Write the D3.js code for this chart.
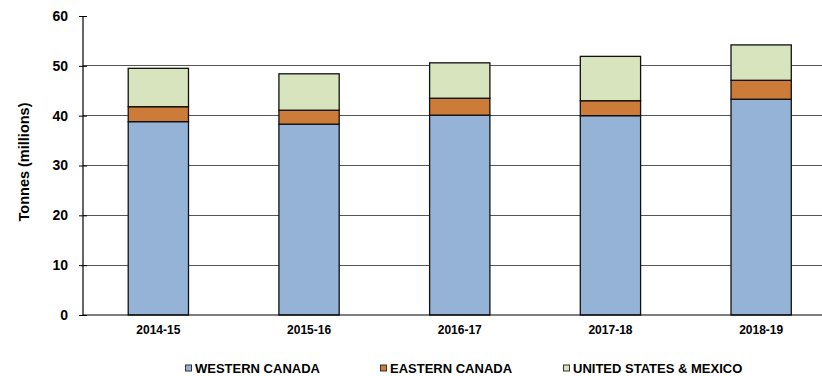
<!DOCTYPE html>
<html><head><meta charset="utf-8">
<script src="https://cdn.jsdelivr.net/npm/d3@7"></script>
<style>body{margin:0;background:#fff;} svg{display:block;font-family:"Liberation Sans",Arial,sans-serif;}</style>
</head><body>
<svg id="chart" width="822" height="376"></svg>
<script>
const categories = ["2014-15","2015-16","2016-17","2017-18","2018-19"];
const western = [38.8, 38.3, 40.1, 40.0, 43.3];
const eastern = [3.0, 2.8, 3.4, 3.0, 3.8];
const usMexico = [7.7, 7.3, 7.1, 8.9, 7.1];
const seriesNames = ["WESTERN CANADA","EASTERN CANADA","UNITED STATES & MEXICO"];
const colors = ["#95B3D7","#CD7B39","#D7E4BD"];
const yTicks = [0,10,20,30,40,50,60];

(function(){
const svg = d3.select("#chart");
const mLeft = 83, mRight = 836.5, mTop = 16, mBottom = 315;
const x = d3.scaleBand().domain(categories).range([mLeft, mRight]).paddingInner(0.6).paddingOuter(0.3);
const y = d3.scaleLinear().domain([0,60]).range([mBottom, mTop]);

// gridlines
svg.append("g").selectAll("line").data(yTicks.filter(t=>t>0 && t<60)).join("line")
  .attr("x1", mLeft).attr("x2", mRight).attr("y1", d=>y(d)).attr("y2", d=>y(d))
  .attr("stroke", "#555").attr("stroke-width", 1).attr("shape-rendering","crispEdges");

const rows = categories.map((c,i)=>({cat:c, w:western[i], e:eastern[i], u:usMexico[i]}));
const stack = d3.stack().keys(["w","e","u"])(rows);
svg.append("g").selectAll("g").data(stack).join("g")
  .attr("fill", (d,i)=>colors[i])
  .selectAll("rect").data(d=>d).join("rect")
  .attr("x", d=>x(d.data.cat)).attr("width", x.bandwidth())
  .attr("y", d=>y(d[1])).attr("height", d=>y(d[0])-y(d[1]))
  .attr("stroke", "#111").attr("stroke-width", 1.3);

// y axis (ticks cross the axis)
const yAxis = d3.axisLeft(y).tickValues(yTicks).tickSize(4).tickPadding(11);
const ya = svg.append("g").attr("transform", `translate(${mLeft},0)`).call(yAxis);
ya.select(".domain").attr("stroke","#000").attr("stroke-width",1.2).attr("d", `M0,${mTop}V${mBottom}`);
ya.selectAll(".tick line").attr("stroke","#000").attr("x1", 4).attr("x2", -4);
ya.selectAll("text").attr("font-size", 14).attr("font-weight","bold").attr("fill","#000")
  .attr("font-family","Liberation Sans, Arial, sans-serif");

// x axis
const xAxis = d3.axisBottom(x).tickSize(0).tickPadding(10);
const xa = svg.append("g").attr("transform", `translate(0,${mBottom})`).call(xAxis);
xa.select(".domain").attr("stroke","#000").attr("stroke-width",1.2).attr("d", `M${mLeft},0H${mRight}`);
xa.selectAll("text").attr("font-size", 12).attr("font-weight","bold").attr("fill","#000")
  .attr("font-family","Liberation Sans, Arial, sans-serif");

// y title
svg.append("text").attr("transform", `translate(29,${162}) rotate(-90)`)
  .attr("text-anchor","middle").attr("font-size",14.5).attr("font-weight","bold").text("Tonnes (millions)");

// legend
const legX = [185, 380, 563];
const lg = svg.append("g").selectAll("g").data(seriesNames).join("g")
  .attr("transform", (d,i)=>`translate(${legX[i]},373)`);
lg.append("rect").attr("x",0.5).attr("y",-8).attr("width",6).attr("height",6)
  .attr("fill",(d,i)=>colors[i]).attr("stroke","#333").attr("stroke-width",1);
lg.append("text").attr("x",10).attr("y",0).attr("font-size",13).attr("font-weight","bold")
  .text(d=>d);
})();
</script>
</body></html>
